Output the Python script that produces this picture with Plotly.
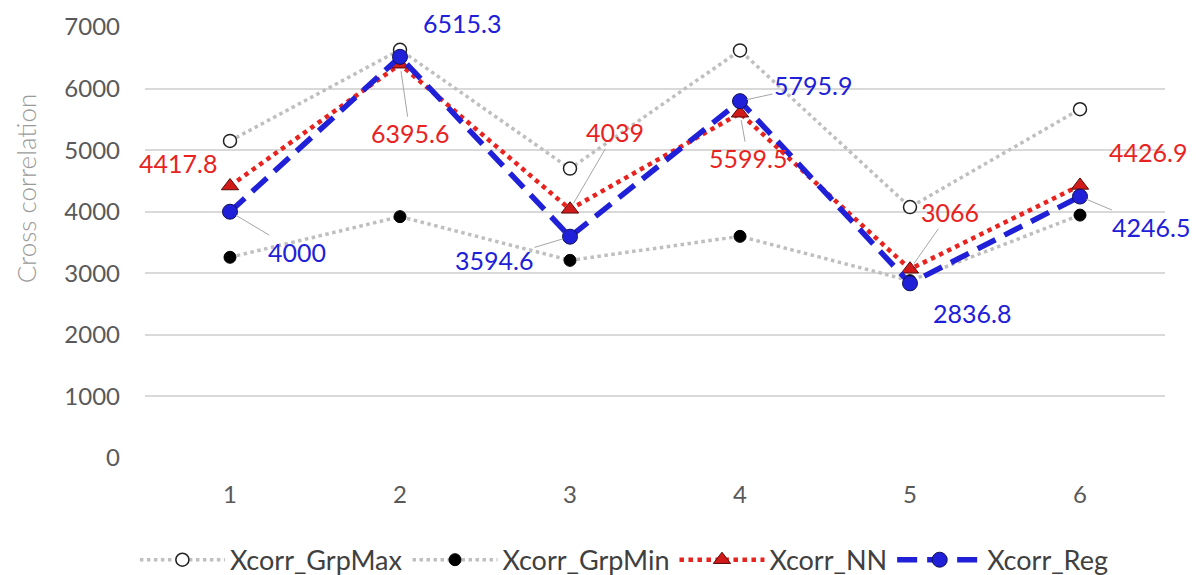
import plotly.graph_objects as go

# Category positions and series values
categories = [1, 2, 3, 4, 5, 6]
grp_max = [5150, 6630, 4700, 6620, 4075, 5665]
grp_min = [3260, 3920, 3210, 3600, 2880, 3945]
xcorr_nn = [4417.8, 6395.6, 4039, 5599.5, 3066, 4426.9]
xcorr_reg = [4000, 6515.3, 3594.6, 5795.9, 2836.8, 4246.5]

y_ticks = [0, 1000, 2000, 3000, 4000, 5000, 6000, 7000]

FONT = "Lato"
RED = "#E8231F"
BLUE = "#2020D8"

fig = go.Figure()

fig.add_trace(go.Scatter(
    x=categories, y=grp_max, name="Xcorr_GrpMax", mode="lines+markers",
    line=dict(color="#BFBFBF", width=3.5, dash="dot"),
    marker=dict(symbol="circle", size=13, color="white",
                line=dict(color="#222222", width=1.5)),
))
fig.add_trace(go.Scatter(
    x=categories, y=grp_min, name="Xcorr_GrpMin", mode="lines+markers",
    line=dict(color="#BFBFBF", width=3.5, dash="dot"),
    marker=dict(symbol="circle", size=12, color="black",
                line=dict(color="black", width=1)),
))
fig.add_trace(go.Scatter(
    x=categories, y=xcorr_nn, name="Xcorr_NN", mode="lines+markers",
    line=dict(color=RED, width=4.5, dash="dot"),
    marker=dict(symbol="triangle-up", size=15, color="#D11A1A",
                line=dict(color="#5A0A0A", width=1)),
))
fig.add_trace(go.Scatter(
    x=categories, y=xcorr_reg, name="Xcorr_Reg", mode="lines+markers",
    line=dict(color=BLUE, width=5.5, dash="20px,10px"),
    marker=dict(symbol="circle", size=15, color=BLUE,
                line=dict(color="#10105A", width=1)),
))

# Data labels: pixel offset of each label from its point, and whether
# a leader line is drawn back to the point
nn_offsets = [(-52, -23, False), (10, 69, True), (45, -77, True),
              (8, 45, True), (40, -57, True), (68, -33, False)]
reg_offsets = [(67, 40, True), (62, -34, False), (-76, 23, True),
               (73, -16, True), (62, 30, False), (71, 30, True)]


def add_labels(values, offsets, color):
    for xv, yv, (ax, ay, arrow) in zip(categories, values, offsets):
        text = f"{yv:g}"
        font = dict(family=FONT, size=25, color=color)
        if arrow:
            fig.add_annotation(
                x=xv, y=yv, text=text, showarrow=True, ax=ax, ay=ay,
                arrowhead=0, arrowwidth=1, arrowcolor="#A6A6A6",
                standoff=7, font=font,
            )
        else:
            fig.add_annotation(
                x=xv, y=yv, text=text, showarrow=False,
                xshift=ax, yshift=-ay, font=font,
            )


add_labels(xcorr_nn, nn_offsets, RED)
add_labels(xcorr_reg, reg_offsets, BLUE)

# Vertical axis title
fig.add_annotation(
    xref="paper", yref="paper", x=-0.1167, y=0.626,
    text="Cross correlation", textangle=-90, showarrow=False,
    xanchor="center", yanchor="middle",
    font=dict(family=FONT, size=26, color="#9A9A9A", weight=300),
)

fig.update_layout(
    width=1196, height=575,
    margin=dict(l=145, r=31, t=27, b=117, autoexpand=False),
    plot_bgcolor="white", paper_bgcolor="white",
    font=dict(family=FONT, size=20, color="#595959"),
    showlegend=True,
    legend=dict(orientation="h", x=0.47, xanchor="center", y=-0.237,
                yanchor="middle", itemwidth=85,
                font=dict(family=FONT, size=27, color="#404040")),
    xaxis=dict(
        range=[0.5, 6.5], tickvals=categories, showgrid=False,
        zeroline=False, showline=False, ticks="", automargin=False,
        ticklabelstandoff=20,
        tickfont=dict(family=FONT, size=24, color="#595959"),
    ),
    yaxis=dict(
        range=[0, 7000], tickvals=y_ticks, showgrid=True,
        gridcolor="#D9D9D9", gridwidth=1.5, zeroline=False, showline=False,
        automargin=False, ticklabelstandoff=24,
        tickfont=dict(family=FONT, size=24, color="#595959"),
    ),
)

fig.write_html("out.html")
